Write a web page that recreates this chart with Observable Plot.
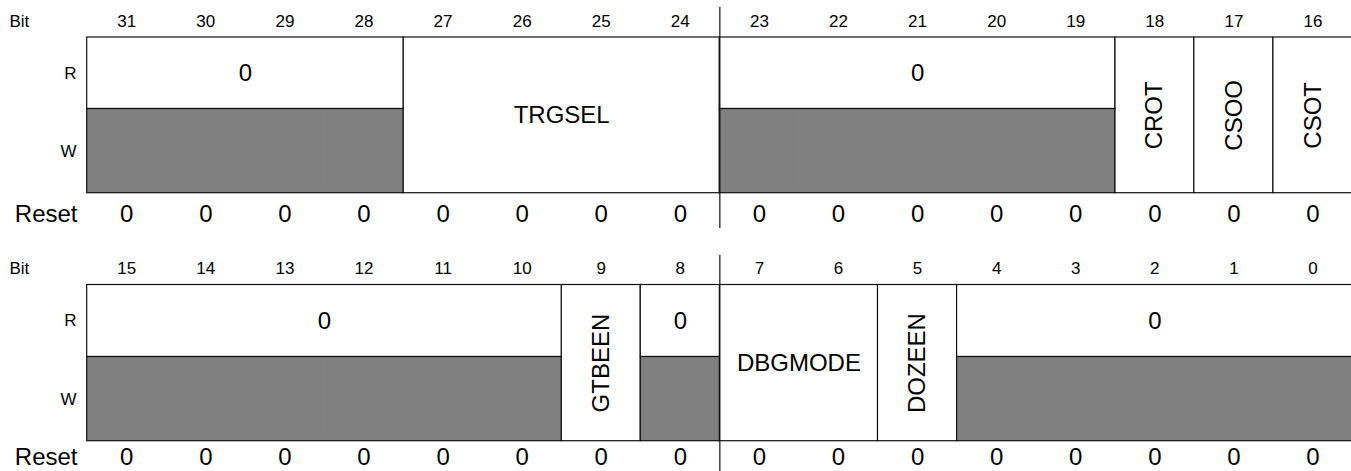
<!DOCTYPE html>
<html>
<head>
<meta charset="utf-8">
<script src="https://cdn.jsdelivr.net/npm/d3@7"></script>
<script src="https://cdn.jsdelivr.net/npm/@observablehq/plot@0.6"></script>
<style>
  html, body { margin: 0; padding: 0; background: #fff; overflow: hidden; }
  #chart svg { display: block; }
</style>
</head>
<body>
<div id="chart"></div>
<script>
// ---- data ----
const bitNumbers = [31, 30, 29, 28, 27, 26, 25, 24, 23, 22, 21, 20, 19, 18, 17, 16,
                    15, 14, 13, 12, 11, 10, 9, 8, 7, 6, 5, 4, 3, 2, 1, 0];
const resetValues = ["0", "0", "0", "0", "0", "0", "0", "0", "0", "0", "0", "0", "0", "0", "0", "0",
                     "0", "0", "0", "0", "0", "0", "0", "0", "0", "0", "0", "0", "0", "0", "0", "0"];
const fieldNames  = ["0", "TRGSEL", "0", "CROT", "CSOO", "CSOT", "0", "GTBEEN", "0", "DBGMODE", "DOZEEN", "0"];
const fieldMsb    = [31, 27, 23, 18, 17, 16, 15, 9, 8, 7, 5, 4];
const fieldLsb    = [28, 24, 19, 18, 17, 16, 10, 9, 8, 6, 5, 0];
const fieldAccess = ["r", "rw", "r", "rw", "rw", "rw", "r", "rw", "r", "rw", "rw", "r"];
const rowLabels   = ["Bit", "R", "W", "Reset"];
const registers   = [0, 1];

// ---- layout (pixels) ----
const FONT = '"Liberation Sans", Arial, Helvetica, sans-serif';
const regTop    = [37, 284.5];
const rowSplit  = [108.5, 356.5];
const regBottom = [192.7, 440.7];
const bitLabelY = [21.5, 268.5];
const resetY    = [213.5, 457];
const dividerY1 = [7, 255];
const dividerY2 = [228, 471];
const labelYByRow = (r) => ({Bit: bitLabelY[r], R: (regTop[r] + rowSplit[r]) / 2, W: (rowSplit[r] + regBottom[r]) / 2, Reset: resetY[r]});

const regOf = (b) => (b >= 16 ? 0 : 1);
const colOf = (b) => (b >= 16 ? 31 - b : 15 - b);

const fields = fieldNames.map((name, i) => {
  const reg = regOf(fieldMsb[i]);
  const x1 = colOf(fieldMsb[i]);
  const x2 = colOf(fieldLsb[i]) + 1;
  const access = fieldAccess[i];
  return {name, reg, x1, x2, access, vertical: access === "rw" && fieldMsb[i] === fieldLsb[i]};
});
const rwFields = fields.filter(d => d.access === "rw");
const rFields = fields.filter(d => d.access === "r");
const grayLines = rFields.flatMap(d => d3.range(d.x1 + 1, d.x2).map(x => ({x, reg: d.reg})));

const bits = bitNumbers.map((b, i) => ({b, reg: regOf(b), col: colOf(b), reset: resetValues[i]}));
const rowTexts = registers.flatMap(r => rowLabels.map(t => ({t, reg: r, y: labelYByRow(r)[t]})));

const chart = Plot.plot({
  width: 1351,
  height: 471,
  marginLeft: 0, marginRight: 0, marginTop: 0, marginBottom: 0,
  x: {type: "linear", domain: [0, 16], range: [86.7, 1352], axis: null},
  y: {type: "identity", axis: null},
  style: {fontFamily: FONT, background: "white", color: "black"},
  marks: [
    // read/write fields: full height white
    Plot.rect(rwFields, {x1: "x1", x2: "x2", y1: d => regTop[d.reg], y2: d => regBottom[d.reg],
      fill: "white", stroke: "#111", strokeWidth: 1.2}),
    // reserved: R row white
    Plot.rect(rFields, {x1: "x1", x2: "x2", y1: d => regTop[d.reg], y2: d => rowSplit[d.reg],
      fill: "white", stroke: "#111", strokeWidth: 1.2}),
    // reserved: W row gray
    Plot.rect(rFields, {x1: "x1", x2: "x2", y1: d => rowSplit[d.reg], y2: d => regBottom[d.reg],
      fill: "#808080", stroke: "#111", strokeWidth: 1.2}),
    // very faint bit boundaries in gray region
    Plot.ruleX(grayLines, {x: "x", y1: d => rowSplit[d.reg] + 1, y2: d => regBottom[d.reg] - 1,
      stroke: "#858585", strokeWidth: 0.5}),
    // halfword divider
    Plot.ruleX(registers, {x: 8, y1: r => dividerY1[r], y2: r => dividerY2[r], stroke: "#111", strokeWidth: 1.2}),
    // field labels: horizontal
    Plot.text(fields.filter(d => !d.vertical), {
      x: d => (d.x1 + d.x2) / 2,
      y: d => d.access === "r" ? (regTop[d.reg] + rowSplit[d.reg]) / 2 : (regTop[d.reg] + regBottom[d.reg]) / 2,
      text: "name", fontSize: 24, fill: "black"}),
    // field labels: vertical
    Plot.text(fields.filter(d => d.vertical), {
      x: d => (d.x1 + d.x2) / 2,
      y: d => (regTop[d.reg] + regBottom[d.reg]) / 2,
      text: "name", fontSize: 24, rotate: -90, fill: "black"}),
    // bit numbers
    Plot.text(bits, {x: d => d.col + 0.5, y: d => bitLabelY[d.reg], text: d => String(d.b), fontSize: 17, fill: "black"}),
    // reset values
    Plot.text(bits, {x: d => d.col + 0.5, y: d => resetY[d.reg], text: "reset", fontSize: 24, fill: "black"}),
    // row labels
    Plot.text(rowTexts.filter(d => d.t === "Bit"), {frameAnchor: "left", dx: 9, y: "y", text: "t", fontSize: 17, textAnchor: "start", fill: "black"}),
    Plot.text(rowTexts.filter(d => d.t === "R" || d.t === "W"), {frameAnchor: "left", dx: 76, y: "y", text: "t", fontSize: 17, textAnchor: "end", fill: "black"}),
    Plot.text(rowTexts.filter(d => d.t === "Reset"), {frameAnchor: "left", dx: 77, y: "y", text: "t", fontSize: 24, textAnchor: "end", fill: "black"})
  ]
});
document.getElementById("chart").appendChild(chart);
</script>
</body>
</html>
